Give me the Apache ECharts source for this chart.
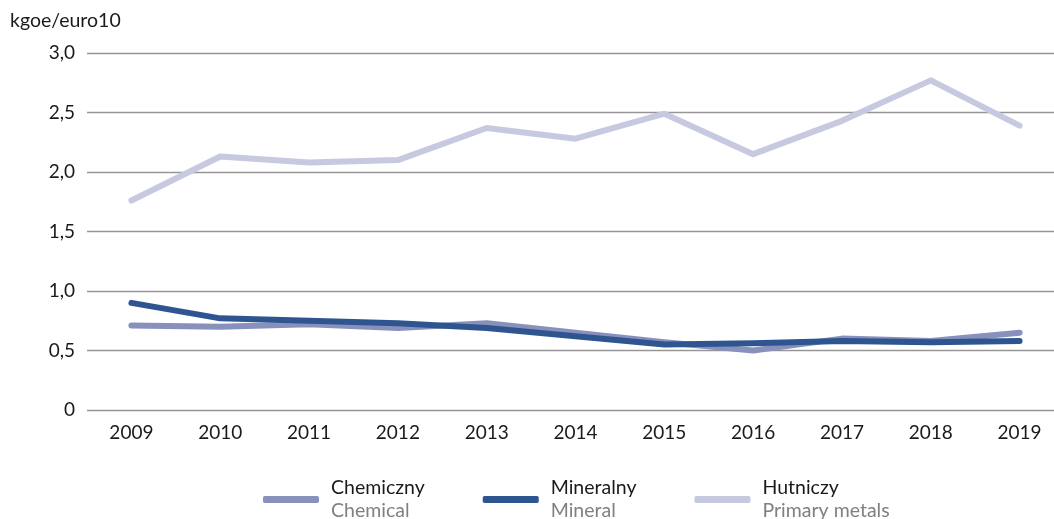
<!DOCTYPE html>
<html>
<head>
<meta charset="utf-8">
<script src="https://cdn.jsdelivr.net/npm/echarts@6/dist/echarts.min.js"></script>
<style>
	html, body { margin: 0; padding: 0; background: #fff; overflow: hidden; }
	/* wykres w oryginale jest przycięty z prawej strony */
	#chart { width: 1064px; height: 519px; }
</style>
</head>
<body>
<div id="chart"></div>
<script>
// dane
const years = ["2009", "2010", "2011", "2012", "2013", "2014", "2015", "2016", "2017", "2018", "2019"];
const chemiczny = [0.71, 0.70, 0.72, 0.69, 0.73, 0.65, 0.57, 0.50, 0.60, 0.58, 0.65];
const mineralny = [0.90, 0.77, 0.75, 0.73, 0.69, 0.62, 0.55, 0.56, 0.58, 0.57, 0.58];
const hutniczy = [1.76, 2.13, 2.08, 2.10, 2.37, 2.28, 2.49, 2.15, 2.43, 2.77, 2.39];
const englishNames = { "Chemiczny": "Chemical", "Mineralny": "Mineral", "Hutniczy": "Primary metals" };

const font = "Lato";
let myChart = echarts.init(document.getElementById("chart"));

function lineSeries(name, data, color) {
	return {
		name: name,
		type: "line",
		data: data,
		showSymbol: false,
		symbol: "none",
		color: color,
		lineStyle: { width: 6, color: color, cap: "round", join: "round" }
	};
}

myChart.setOption({
	animation: false,
	textStyle: { fontFamily: font },
	grid: { left: 87, right: 0, top: 53, bottom: 109, containLabel: false },
	legend: {
		left: 258,
		top: 473,
		itemWidth: 56,
		itemHeight: 7,
		itemGap: 58,
		icon: "roundRect",
		selectedMode: false,
		data: ["Chemiczny", "Mineralny", "Hutniczy"],
		formatter: function (name) {
			return "{pl|" + name + "}\n{en|" + englishNames[name] + "}";
		},
		textStyle: {
			padding: [0, 0, 0, 7],
			rich: {
				pl: { fontFamily: font, fontSize: 19.5, color: "#1a1a1a", lineHeight: 23 },
				en: { fontFamily: font, fontSize: 19.5, color: "#808080", lineHeight: 23 }
			}
		}
	},
	xAxis: {
		type: "category",
		data: years,
		boundaryGap: true,
		axisLine: { show: false },
		axisTick: { show: false },
		axisLabel: { color: "#1a1a1a", fontSize: 19, margin: 13, fontFamily: font },
		splitLine: { show: false }
	},
	yAxis: {
		type: "value",
		min: 0,
		max: 3,
		interval: 0.5,
		name: "kgoe/euro10",
		nameLocation: "end",
		nameGap: 22,
		nameTextStyle: { color: "#1a1a1a", fontSize: 19.5, align: "left", padding: [0, 0, 0, -77], fontFamily: font },
		axisLine: { show: false },
		axisTick: { show: false },
		axisLabel: {
			color: "#1a1a1a",
			fontSize: 19,
			margin: 12,
			fontFamily: font,
			formatter: function (v) {
				return v === 0 ? "0" : v.toFixed(1).replace(".", ",");
			}
		},
		splitLine: { lineStyle: { color: "#969696", width: 1.3 } }
	},
	series: [
		lineSeries("Hutniczy", hutniczy, "#c6c9df"),
		lineSeries("Chemiczny", chemiczny, "#8791bc"),
		lineSeries("Mineralny", mineralny, "#2f5591")
	]
});
</script>
</body>
</html>
